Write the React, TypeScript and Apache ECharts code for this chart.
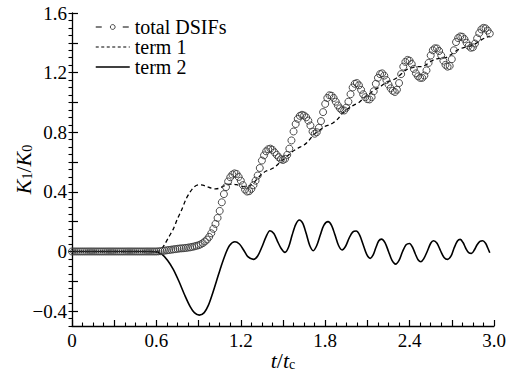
import { useEffect, useRef } from 'react';
import * as echarts from 'echarts';

// total DSIFs sampled every TOTAL_STEP in t/tc, starting at 0
const TOTAL_STEP = 0.015;
const totalValues = [
  0, 0, 0, 0, 0, 0, 0, 0, 0, 0,
  0, 0, 0, 0, 0, 0, 0, 0, 0, 0,
  0, 0, 0, 0, 0, 0, 0, 0, 0, 0,
  0, 0, 0, 0, 0, 0, 0, 0, 0, 0,
  0,
  0.001, 0.002, 0.004, 0.006, 0.008, 0.010, 0.012, 0.014, 0.016, 0.018,
  0.020, 0.021, 0.022, 0.024, 0.026, 0.028, 0.031, 0.034, 0.038, 0.042,
  0.048, 0.056, 0.067, 0.080, 0.098, 0.122, 0.152, 0.185, 0.225, 0.272,
  0.330, 0.385, 0.432, 0.470, 0.498, 0.516, 0.524, 0.520, 0.500, 0.475,
  0.445, 0.415, 0.402, 0.405, 0.420, 0.445, 0.475, 0.510, 0.560, 0.610,
  0.645, 0.672, 0.686, 0.690, 0.682, 0.665, 0.648, 0.632, 0.619, 0.614,
  0.622, 0.648, 0.690, 0.745, 0.805, 0.855, 0.890, 0.910, 0.917, 0.912,
  0.900, 0.878, 0.845, 0.805, 0.790, 0.800, 0.830, 0.875, 0.935, 0.990,
  1.030, 1.048, 1.045, 1.030, 1.005, 0.980, 0.960, 0.947, 0.946, 0.965,
  1.005, 1.055, 1.100, 1.125, 1.130, 1.115, 1.085, 1.055, 1.035, 1.022,
  1.020, 1.035, 1.075, 1.125, 1.165, 1.190, 1.195, 1.180, 1.150, 1.120,
  1.095, 1.078, 1.070, 1.085, 1.130, 1.190, 1.240, 1.272, 1.285, 1.280,
  1.258, 1.225, 1.195, 1.175, 1.165, 1.165, 1.180, 1.215, 1.265, 1.315,
  1.350, 1.363, 1.362, 1.345, 1.315, 1.280, 1.252, 1.240, 1.245, 1.290,
  1.350, 1.405, 1.432, 1.443, 1.440, 1.425, 1.400, 1.380, 1.367, 1.370,
  1.395, 1.430, 1.465, 1.490, 1.500, 1.497, 1.482, 1.462,
];

// term 1: [t/tc, K1/K0]
const term1Points = [
  [0, 0], [0.6, 0], [0.63, 0.01], [0.66, 0.05], [0.69, 0.10], [0.72, 0.15], [0.75, 0.22],
  [0.78, 0.28], [0.81, 0.35], [0.84, 0.40], [0.87, 0.435], [0.90, 0.447], [0.93, 0.445],
  [0.96, 0.435], [0.99, 0.425], [1.02, 0.42], [1.05, 0.425], [1.08, 0.44], [1.11, 0.45],
  [1.14, 0.452], [1.17, 0.448], [1.20, 0.44], [1.23, 0.435], [1.26, 0.44], [1.29, 0.46],
  [1.32, 0.49], [1.35, 0.52], [1.38, 0.54], [1.41, 0.55], [1.44, 0.565], [1.47, 0.59],
  [1.50, 0.615], [1.53, 0.64], [1.56, 0.665], [1.59, 0.685], [1.62, 0.70], [1.65, 0.715],
  [1.68, 0.74], [1.71, 0.775], [1.74, 0.80], [1.77, 0.82], [1.80, 0.84], [1.83, 0.85],
  [1.86, 0.865], [1.89, 0.89], [1.92, 0.925], [1.95, 0.95], [1.98, 0.97], [2.01, 0.985],
  [2.04, 1.0], [2.07, 1.025], [2.10, 1.05], [2.13, 1.07], [2.16, 1.09], [2.19, 1.105],
  [2.22, 1.125], [2.25, 1.14], [2.28, 1.15], [2.31, 1.165], [2.34, 1.19], [2.37, 1.215],
  [2.40, 1.23], [2.43, 1.235], [2.46, 1.24], [2.49, 1.24], [2.52, 1.255], [2.55, 1.275],
  [2.58, 1.29], [2.61, 1.295], [2.64, 1.298], [2.67, 1.305], [2.70, 1.325], [2.73, 1.345],
  [2.76, 1.36], [2.79, 1.37], [2.82, 1.375], [2.85, 1.385], [2.88, 1.40], [2.91, 1.42],
  [2.94, 1.435], [2.97, 1.445],
];

// term 2: [t/tc, K1/K0]
const term2Points = [
  [0, 0], [0.55, 0], [0.6, -0.003], [0.64, -0.02], [0.68, -0.06], [0.72, -0.12], [0.76, -0.2],
  [0.80, -0.29], [0.84, -0.37], [0.87, -0.41], [0.905, -0.427], [0.94, -0.41], [0.97, -0.36],
  [1.00, -0.28], [1.03, -0.19], [1.06, -0.10], [1.09, -0.02], [1.12, 0.04], [1.158, 0.065],
  [1.19, 0.05], [1.22, 0.01], [1.25, -0.035], [1.29, -0.053], [1.32, -0.03], [1.35, 0.03],
  [1.38, 0.10], [1.407, 0.139], [1.435, 0.12], [1.46, 0.07], [1.487, 0.02], [1.514, -0.006],
  [1.54, 0.03], [1.565, 0.11], [1.59, 0.18], [1.616, 0.211], [1.64, 0.19], [1.665, 0.12],
  [1.69, 0.04], [1.715, 0.005], [1.74, 0.04], [1.765, 0.11], [1.79, 0.175], [1.82, 0.2],
  [1.845, 0.175], [1.87, 0.11], [1.895, 0.04], [1.92, 0.01], [1.945, 0.035], [1.97, 0.09],
  [1.995, 0.13], [2.02, 0.137], [2.045, 0.11], [2.07, 0.045], [2.095, -0.02], [2.12, -0.046],
  [2.14, -0.025], [2.16, 0.025], [2.18, 0.07], [2.20, 0.083], [2.225, 0.06], [2.25, 0.0],
  [2.275, -0.06], [2.30, -0.085], [2.325, -0.06], [2.35, 0.0], [2.375, 0.045], [2.40, 0.054],
  [2.42, 0.03], [2.44, -0.015], [2.46, -0.055], [2.48, -0.069], [2.50, -0.05], [2.525, 0.0],
  [2.55, 0.055], [2.57, 0.072], [2.595, 0.055], [2.62, 0.005], [2.645, -0.04], [2.67, -0.053],
  [2.695, -0.03], [2.715, 0.02], [2.74, 0.07], [2.76, 0.081], [2.78, 0.06], [2.80, 0.02],
  [2.82, -0.008], [2.84, -0.013], [2.86, 0.01], [2.88, 0.045], [2.90, 0.068], [2.92, 0.072],
  [2.94, 0.055], [2.955, 0.025], [2.97, -0.009],
];

const xLabelValues = [0, 0.6, 1.2, 1.8, 2.4, 3.0];
const yLabelValues = [-0.4, 0, 0.4, 0.8, 1.2, 1.6];
const yMajorTickValues = [-0.4, -0.2, 0, 0.2, 0.4, 0.6, 0.8, 1.0, 1.2, 1.4, 1.6];
const seriesNames = ['total DSIFs', 'term 1', 'term 2'];

const FONT = 'Liberation Serif';

function fmtY(v: number) {
  if (Math.abs(v) < 1e-9) return '0';
  return (v < 0 ? '\u2212' : '') + Math.abs(v).toFixed(1);
}

export default function App() {
  const ref = useRef<HTMLDivElement>(null);
  useEffect(() => {
    document.body.style.margin = '0';
    const chart = echarts.init(ref.current!, null, { renderer: 'svg' });
    const totalData = totalValues.map((v, i) => [Number((i * TOTAL_STEP).toFixed(3)), v]);
    const labelStyle = { fontFamily: FONT, fontSize: 19, color: '#000' };
    const nameRich = {
      i: { fontFamily: FONT, fontStyle: 'italic', fontSize: 22, color: '#000', lineHeight: 22, verticalAlign: 'bottom' },
      n: { fontFamily: FONT, fontSize: 22, color: '#000', lineHeight: 22, verticalAlign: 'bottom' },
      s: { fontFamily: FONT, fontSize: 14, color: '#000', lineHeight: 18, verticalAlign: 'bottom', padding: [5, 0, 0, 0] },
    };
    const option: any = {
      animation: false,
      backgroundColor: '#fff',
      grid: { left: 72, right: 16, top: 13, bottom: 47, containLabel: false, outerBoundsMode: 'none' },
      legend: {
        orient: 'vertical',
        left: 95,
        top: 17,
        padding: 0,
        itemGap: 0,
        itemWidth: 34,
        itemHeight: 6,
        selectedMode: false,
        textStyle: { fontFamily: FONT, fontSize: 20, color: '#000', lineHeight: 18 },
        data: [
          {
            name: seriesNames[0],
            itemStyle: { color: '#fff', borderColor: '#333', borderWidth: 0.9, opacity: 1 },
            lineStyle: { type: [6, 21], color: '#000', width: 1, opacity: 1 },
          },
          {
            name: seriesNames[1],
            itemStyle: { opacity: 0 },
            lineStyle: { type: [3, 2.5], color: '#000', width: 1.2, opacity: 1 },
          },
          {
            name: seriesNames[2],
            itemStyle: { opacity: 0 },
            lineStyle: { type: 'solid', color: '#000', width: 1.5, opacity: 1 },
          },
        ],
      },
      xAxis: {
        type: 'value',
        min: 0,
        max: 3,
        interval: 0.3,
        name: '{i|t}{n|/}{i|t}{s|c}',
        nameLocation: 'middle',
        nameGap: 23,
        nameMoveOverlap: false,
        nameTextStyle: { rich: nameRich },
        axisLine: { show: true, onZero: false, lineStyle: { color: '#000', width: 1.3 } },
        axisTick: { show: true, inside: true, length: 6, lineStyle: { color: '#000', width: 1.2 } },
        minorTick: { show: true, splitNumber: 4, length: 3.5, lineStyle: { color: '#000', width: 1.1 } },
        splitLine: { show: false },
        minorSplitLine: { show: false },
        axisLabel: {
          ...labelStyle,
          margin: 5,
          formatter: (v: number) => {
            const hit = xLabelValues.find((x) => Math.abs(x - v) < 1e-6);
            if (hit === undefined) return '';
            return hit === 0 ? '0' : hit.toFixed(1);
          },
        },
      },
      yAxis: [
        {
          type: 'value',
          min: -0.5,
          max: 1.6,
          name: '{i|K}{s|1}{n|/}{i|K}{s|0}',
          nameLocation: 'middle',
          nameGap: 38,
          nameRotate: 90,
          nameMoveOverlap: false,
          nameTextStyle: { rich: nameRich },
          axisLine: { show: true, onZero: false, lineStyle: { color: '#000', width: 1.3 } },
          axisTick: { show: true, inside: true, length: 6, customValues: yMajorTickValues, lineStyle: { color: '#000', width: 1.2 } },
          splitLine: { show: false },
          axisLabel: { ...labelStyle, margin: 5, customValues: yLabelValues, formatter: (v: number) => fmtY(v) },
        },
        {
          type: 'value',
          min: -0.5,
          max: 1.6,
          interval: 0.05,
          axisLine: { show: false },
          axisTick: { show: true, inside: true, length: 3.5, lineStyle: { color: '#000', width: 1.1 } },
          axisLabel: { show: false },
          splitLine: { show: false },
        },
      ],
      series: [
        {
          name: seriesNames[0],
          type: 'line',
          yAxisIndex: 0,
          data: totalData,
          symbol: 'circle',
          symbolSize: 7,
          showSymbol: true,
          lineStyle: { opacity: 0, width: 0 },
          itemStyle: { color: 'rgba(255,255,255,0)', borderColor: '#3a3a3a', borderWidth: 0.9 },
          z: 3,
        },
        {
          name: seriesNames[1],
          type: 'line',
          yAxisIndex: 0,
          data: term1Points,
          symbol: 'none',
          smooth: 0.3,
          lineStyle: { type: [4, 3], color: '#000', width: 1.3 },
          itemStyle: { color: '#000' },
          z: 2,
        },
        {
          name: seriesNames[2],
          type: 'line',
          yAxisIndex: 0,
          data: term2Points,
          symbol: 'none',
          smooth: 0.3,
          lineStyle: { type: 'solid', color: '#000', width: 1.6 },
          itemStyle: { color: '#000' },
          z: 2,
        },
      ],
    };
    chart.setOption(option);
    return () => chart.dispose();
  }, []);
  return <div ref={ref} style={{ width: 510, height: 373 }} />;
}
